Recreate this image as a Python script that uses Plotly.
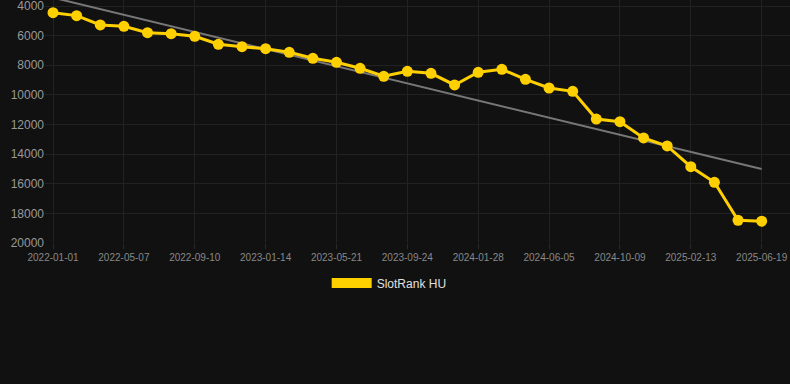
import numpy as np
import plotly.graph_objects as go

dates = [
    "2022-01-01", "2022-02-12", "2022-03-26", "2022-05-07", "2022-06-18", "2022-07-30",
    "2022-09-10", "2022-10-22", "2022-12-03", "2023-01-14", "2023-02-25", "2023-04-08",
    "2023-05-21", "2023-07-02", "2023-08-13", "2023-09-24", "2023-11-05", "2023-12-17",
    "2024-01-28", "2024-03-10", "2024-04-22", "2024-06-05", "2024-07-17", "2024-08-28",
    "2024-10-09", "2024-11-20", "2025-01-01", "2025-02-13", "2025-03-27", "2025-05-08",
    "2025-06-19",
]
ranks = [
    4450, 4650, 5280, 5370, 5800, 5870, 6045, 6585, 6750, 6880,
    7125, 7530, 7800, 8205, 8745, 8410, 8545, 9330, 8475, 8275,
    8950, 9535, 9760, 11630, 11810, 12910, 13450, 14850, 15900, 18465,
    18530,
]
tick_labels = dates[::3]
y_ticks = [4000, 6000, 8000, 10000, 12000, 14000, 16000, 18000, 20000]
series_name = "SlotRank HU"

idx = np.arange(len(ranks))
slope, intercept = np.polyfit(idx, ranks, 1)
trend = slope * idx + intercept

fig = go.Figure()
fig.add_trace(go.Scatter(
    x=dates, y=trend, mode="lines",
    line=dict(color="#777777", width=2),
    showlegend=False, hoverinfo="skip",
))
fig.add_trace(go.Scatter(
    x=dates, y=ranks, mode="lines+markers",
    line=dict(color="#FFD000", width=3),
    marker=dict(color="#FFD000", size=11),
    showlegend=False, name=series_name,
))
fig.add_trace(go.Scatter(
    x=[None], y=[None], mode="lines",
    line=dict(color="#FFD000", width=14),
    name=series_name, showlegend=True,
))

fig.update_layout(
    width=790, height=384,
    margin=dict(l=45, r=0, t=0, b=141),
    paper_bgcolor="#111111", plot_bgcolor="#111111",
    font=dict(family="Liberation Sans, Arial, sans-serif"),
    xaxis=dict(
        type="category",
        range=[-0.34, 31.2],
        tickmode="array", tickvals=tick_labels, ticktext=tick_labels,
        tickfont=dict(size=10, color="#888888"),
        showgrid=True, gridcolor="#222222", gridwidth=1,
        zeroline=False, showline=False,
        ticks="outside", ticklen=5, tickcolor="#2a2a2a",
        ticklabeloverflow="allow",
    ),
    yaxis=dict(
        range=[20000, 3595],
        tickmode="array", tickvals=y_ticks, ticktext=[str(v) for v in y_ticks],
        tickfont=dict(size=12, color="#999999"),
        showgrid=True, gridcolor="#222222", gridwidth=1,
        zeroline=False, showline=False,
        ticklabeloverflow="allow",
    ),
    legend=dict(
        orientation="h", x=0.462, xanchor="center", y=-0.165, yanchor="middle",
        font=dict(size=12, color="#e0e0e0"), itemwidth=40,
        bgcolor="rgba(0,0,0,0)",
    ),
)

fig.write_html(
    "out.html",
    config={"displayModeBar": False},
    post_script="document.body.style.margin='0';document.body.style.background='#111111';",
)
